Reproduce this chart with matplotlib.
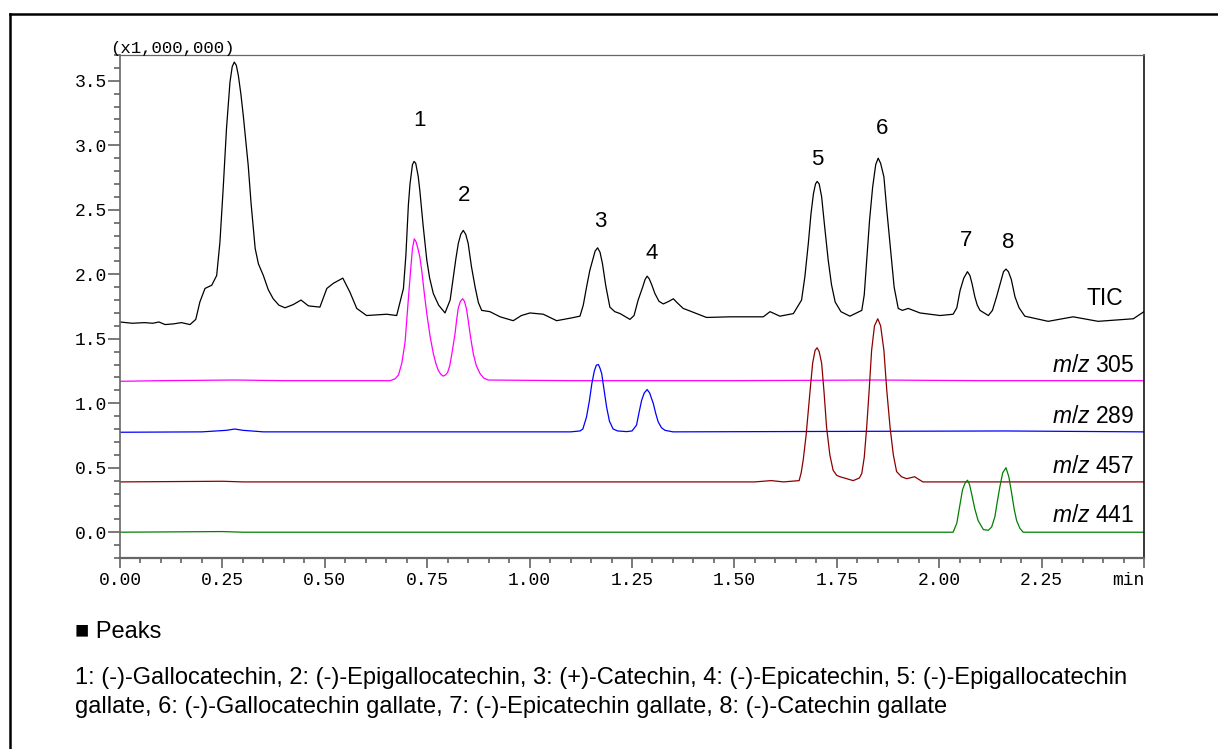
import matplotlib
matplotlib.use("Agg")
import matplotlib.pyplot as plt
from matplotlib.ticker import MultipleLocator, FixedLocator, FixedFormatter
from matplotlib.lines import Line2D

# TIC trace (time in min, intensity x1,000,000)
tic_t = [0.000, 0.030, 0.060, 0.080, 0.095, 0.110, 0.130, 0.150, 0.171, 0.185,
         0.195, 0.2075, 0.224, 0.236, 0.244, 0.252, 0.260, 0.2685, 0.274, 0.279,
         0.284, 0.289, 0.295, 0.301, 0.307, 0.313, 0.320, 0.330, 0.338, 0.350,
         0.362, 0.374, 0.388, 0.403, 0.423, 0.442, 0.460, 0.488, 0.505, 0.521,
         0.544, 0.5615, 0.578, 0.602, 0.651, 0.6755, 0.692, 0.698, 0.704, 0.708,
         0.714, 0.718, 0.722, 0.728, 0.732, 0.740, 0.749, 0.756, 0.765, 0.778,
         0.7935, 0.806, 0.814, 0.820, 0.826, 0.832, 0.838, 0.844, 0.850, 0.858,
         0.867, 0.875, 0.883, 0.903, 0.928, 0.960, 0.980, 1.001, 1.0335, 1.066,
         1.100, 1.123, 1.131, 1.139, 1.147, 1.154, 1.160, 1.166, 1.172, 1.178,
         1.186, 1.196, 1.208, 1.221, 1.245, 1.255, 1.265, 1.276, 1.282, 1.287,
         1.292, 1.298, 1.306, 1.316, 1.3265, 1.340, 1.351, 1.360, 1.375, 1.3835,
         1.432, 1.489, 1.5705, 1.587, 1.611, 1.644, 1.664, 1.672, 1.6805, 1.687,
         1.693, 1.698, 1.702, 1.707, 1.713, 1.720, 1.729, 1.737, 1.746, 1.760,
         1.782, 1.811, 1.817, 1.823, 1.830, 1.8375, 1.845, 1.851, 1.857, 1.865,
         1.872, 1.8815, 1.890, 1.900, 1.910, 1.9245, 1.953, 2.002, 2.034, 2.043,
         2.051, 2.060, 2.069, 2.075, 2.080, 2.087, 2.093, 2.0996, 2.120, 2.130,
         2.140, 2.150, 2.157, 2.163, 2.169, 2.176, 2.185, 2.195, 2.209, 2.266,
         2.327, 2.388, 2.474, 2.500]
tic_y = [1.63, 1.62, 1.625, 1.62, 1.63, 1.61, 1.615, 1.625, 1.61, 1.65,
         1.785, 1.89, 1.915, 1.99, 2.25, 2.67, 3.13, 3.49, 3.61, 3.645,
         3.62, 3.54, 3.40, 3.23, 3.04, 2.845, 2.55, 2.20, 2.08, 1.99,
         1.88, 1.81, 1.76, 1.74, 1.765, 1.80, 1.755, 1.745, 1.89, 1.93,
         1.97, 1.86, 1.735, 1.68, 1.69, 1.68, 1.89, 2.15, 2.535, 2.70,
         2.85, 2.875, 2.86, 2.76, 2.65, 2.38, 2.11, 1.97, 1.85, 1.76,
         1.70, 1.80, 1.98, 2.12, 2.24, 2.31, 2.34, 2.31, 2.24, 2.06,
         1.90, 1.78, 1.72, 1.71, 1.67, 1.64, 1.68, 1.70, 1.69, 1.64,
         1.66, 1.675, 1.76, 1.90, 2.03, 2.11, 2.18, 2.205, 2.17, 2.08,
         1.91, 1.745, 1.71, 1.695, 1.65, 1.68, 1.80, 1.90, 1.96, 1.985,
         1.965, 1.92, 1.85, 1.79, 1.77, 1.79, 1.81, 1.78, 1.735, 1.725,
         1.665, 1.67, 1.67, 1.71, 1.675, 1.695, 1.80, 1.98, 2.24, 2.47,
         2.625, 2.70, 2.72, 2.70, 2.60, 2.38, 2.11, 1.92, 1.785, 1.71,
         1.675, 1.72, 1.84, 2.11, 2.42, 2.675, 2.85, 2.90, 2.86, 2.755,
         2.50, 2.185, 1.90, 1.735, 1.72, 1.735, 1.70, 1.68, 1.69, 1.74,
         1.875, 1.97, 2.02, 1.99, 1.93, 1.825, 1.76, 1.72, 1.68, 1.72,
         1.825, 1.94, 2.02, 2.04, 2.02, 1.96, 1.825, 1.74, 1.675, 1.635,
         1.67, 1.635, 1.655, 1.71]

# m/z 305
mz305_t = [0.00, 0.10, 0.28, 0.40, 0.66, 0.672, 0.680, 0.688, 0.696, 0.705,
           0.710, 0.714, 0.7185, 0.723, 0.728, 0.732, 0.737, 0.743, 0.749, 0.757,
           0.765, 0.771, 0.777, 0.783, 0.789, 0.795, 0.800, 0.805, 0.810, 0.818,
           0.822, 0.826, 0.831, 0.8365, 0.841, 0.846, 0.850, 0.856, 0.8625, 0.870,
           0.879, 0.888, 0.899, 1.10, 1.50, 1.85, 2.10, 2.50]
mz305_y = [1.17, 1.175, 1.18, 1.175, 1.175, 1.19, 1.22, 1.31, 1.475, 1.85,
           2.05, 2.20, 2.275, 2.25, 2.19, 2.135, 2.02, 1.85, 1.695, 1.52,
           1.385, 1.31, 1.255, 1.225, 1.21, 1.22, 1.24, 1.29, 1.38, 1.54,
           1.65, 1.74, 1.79, 1.81, 1.79, 1.73, 1.645, 1.51, 1.385, 1.29,
           1.23, 1.195, 1.18, 1.175, 1.175, 1.18, 1.175, 1.175]

# m/z 289
mz289_t = [0.00, 0.20, 0.26, 0.28, 0.30, 0.35, 1.10, 1.123, 1.130, 1.139,
           1.146, 1.152, 1.158, 1.163, 1.168, 1.172, 1.176, 1.182, 1.188, 1.195,
           1.204, 1.215, 1.237, 1.250, 1.261, 1.268, 1.2735, 1.280, 1.287, 1.293,
           1.302, 1.308, 1.314, 1.322, 1.3306, 1.35, 2.16, 2.50]
mz289_y = [0.775, 0.778, 0.79, 0.80, 0.79, 0.778, 0.778, 0.785, 0.80, 0.894,
           1.02, 1.153, 1.25, 1.295, 1.30, 1.27, 1.23, 1.10, 0.97, 0.86,
           0.80, 0.785, 0.78, 0.785, 0.83, 0.94, 1.023, 1.08, 1.106, 1.08,
           0.998, 0.92, 0.855, 0.81, 0.79, 0.778, 0.785, 0.778]

# m/z 457
mz457_t = [0.00, 0.25, 0.30, 1.55, 1.59, 1.62, 1.658, 1.663, 1.668, 1.675,
           1.6805, 1.686, 1.691, 1.697, 1.702, 1.707, 1.713, 1.719, 1.725, 1.733,
           1.741, 1.750, 1.758, 1.790, 1.805, 1.811, 1.817, 1.823, 1.829, 1.835,
           1.842, 1.850, 1.857, 1.865, 1.872, 1.880, 1.888, 1.896, 1.908, 1.9205,
           1.94, 1.96, 2.50]
mz457_y = [0.39, 0.395, 0.39, 0.39, 0.40, 0.39, 0.40, 0.46, 0.56, 0.75,
           0.945, 1.14, 1.31, 1.41, 1.43, 1.40, 1.31, 1.08, 0.815, 0.60,
           0.48, 0.44, 0.43, 0.40, 0.42, 0.455, 0.58, 0.815, 1.10, 1.41,
           1.60, 1.655, 1.60, 1.41, 1.10, 0.815, 0.60, 0.47, 0.43, 0.415,
           0.43, 0.39, 0.39]

# m/z 441
mz441_t = [0.00, 0.25, 0.30, 2.034, 2.043, 2.051, 2.057, 2.063, 2.069, 2.074,
           2.079, 2.087, 2.095, 2.108, 2.120, 2.128, 2.136, 2.142, 2.148, 2.155,
           2.163, 2.170, 2.177, 2.183, 2.189, 2.197, 2.205, 2.50]
mz441_y = [0.0, 0.005, 0.0, 0.0, 0.07, 0.22, 0.33, 0.38, 0.403, 0.37,
           0.30, 0.18, 0.09, 0.02, 0.015, 0.04, 0.12, 0.24, 0.35, 0.46,
           0.50, 0.43, 0.30, 0.18, 0.09, 0.03, 0.0, 0.0]

peak_nums = ["1", "2", "3", "4", "5", "6", "7", "8"]
peak_t = [0.732, 0.840, 1.172, 1.299, 1.702, 1.860, 2.065, 2.168]
peak_lab_y = [3.19, 2.61, 2.41, 2.16, 2.89, 3.13, 2.26, 2.25]

trace_names = ["TIC", "$m/z$ 305", "$m/z$ 289", "$m/z$ 457", "$m/z$ 441"]
trace_lab_y = [1.81, 1.295, 0.90, 0.51, 0.13]

x_ticks = [0.0, 0.25, 0.5, 0.75, 1.0, 1.25, 1.5, 1.75, 2.0, 2.25, 2.5]
x_ticklabels = ["0.00", "0.25", "0.50", "0.75", "1.00", "1.25", "1.50",
                "1.75", "2.00", "2.25", "min"]

peaks_lines = ["1: (-)-Gallocatechin, 2: (-)-Epigallocatechin, 3: (+)-Catechin, "
               "4: (-)-Epicatechin, 5: (-)-Epigallocatechin",
               "gallate, 6: (-)-Gallocatechin gallate, 7: (-)-Epicatechin gallate, "
               "8: (-)-Catechin gallate"]

plt.rcParams['font.family'] = ['Liberation Sans', 'DejaVu Sans']
plt.rcParams['mathtext.fontset'] = 'custom'
plt.rcParams['mathtext.it'] = 'Liberation Sans:italic'
plt.rcParams['mathtext.rm'] = 'Liberation Sans'

W, H = 1218, 749
fig = plt.figure(figsize=(W / 100, H / 100), dpi=100)
ax = fig.add_axes([120 / W, 1 - 558 / H, (1144 - 120) / W, (558 - 55) / H])

ax.plot(tic_t, tic_y, color='black', lw=0.9)
ax.plot(mz305_t, mz305_y, color='#ff00ff', lw=0.9)
ax.plot(mz289_t, mz289_y, color='#0000ff', lw=0.9)
ax.plot(mz457_t, mz457_y, color='#8b0000', lw=0.9)
ax.plot(mz441_t, mz441_y, color='#008000', lw=0.9)

for lab, t, y in zip(peak_nums, peak_t, peak_lab_y):
    ax.text(t, y, lab, ha='center', va='center', fontsize=16)

for name, y in zip(trace_names, trace_lab_y):
    x = 2.449 if name == "TIC" else 2.476
    ax.text(x, y, name, ha='right', va='center', fontsize=16.5)

ax.set_xlim(0, 2.5)
ax.set_ylim(-0.2, 3.7)

mono = 'Liberation Mono'
ax.xaxis.set_major_locator(FixedLocator(x_ticks))
ax.xaxis.set_major_formatter(FixedFormatter(x_ticklabels))
ax.xaxis.set_minor_locator(MultipleLocator(0.05))
ax.yaxis.set_major_locator(MultipleLocator(0.5))
ax.yaxis.set_minor_locator(MultipleLocator(0.1))
ax.yaxis.set_major_formatter(lambda v, p: f"{v:.1f}")

ax.tick_params(axis='x', which='major', length=7, width=1.1, color='#555555', pad=3)
ax.tick_params(axis='x', which='minor', length=3.6, width=1.1, color='#555555')
ax.tick_params(axis='y', which='major', length=8.5, width=1.1, color='#555555', pad=1)
ax.tick_params(axis='y', which='minor', length=4.5, width=1.1, color='#555555')
for lab in ax.get_xticklabels() + ax.get_yticklabels():
    lab.set_fontfamily(mono)
    lab.set_fontsize(13)
ax.get_xticklabels()[-1].set_horizontalalignment('right')

ax.spines['bottom'].set_color('#666666')
ax.spines['bottom'].set_linewidth(1.6)
ax.spines['left'].set_color('#666666')
ax.spines['left'].set_linewidth(1.2)
ax.spines['top'].set_color('#666666')
ax.spines['top'].set_linewidth(0.9)
ax.spines['right'].set_color('black')
ax.spines['right'].set_linewidth(1.1)

fig.text(110 / W, 1 - 53 / H, "(x1,000,000)", family=mono, fontsize=12.5,
         ha='left', va='baseline')

# outer frame (left and top edges)
fig.add_artist(Line2D([9.5 / W, 9.5 / W], [0, 1 - 14 / H], color='black', lw=1.8))
fig.add_artist(Line2D([9.5 / W, 1], [1 - 14 / H, 1 - 14 / H], color='black', lw=1.8))

fig.text(75 / W, 1 - 632 / H, "\u25a0 Peaks", fontsize=17, ha='left', va='center')
fig.text(75 / W, 1 - 678 / H, peaks_lines[0], fontsize=17, ha='left', va='center')
fig.text(75 / W, 1 - 707 / H, peaks_lines[1], fontsize=17, ha='left', va='center')

fig.savefig("out.png", dpi=100)
